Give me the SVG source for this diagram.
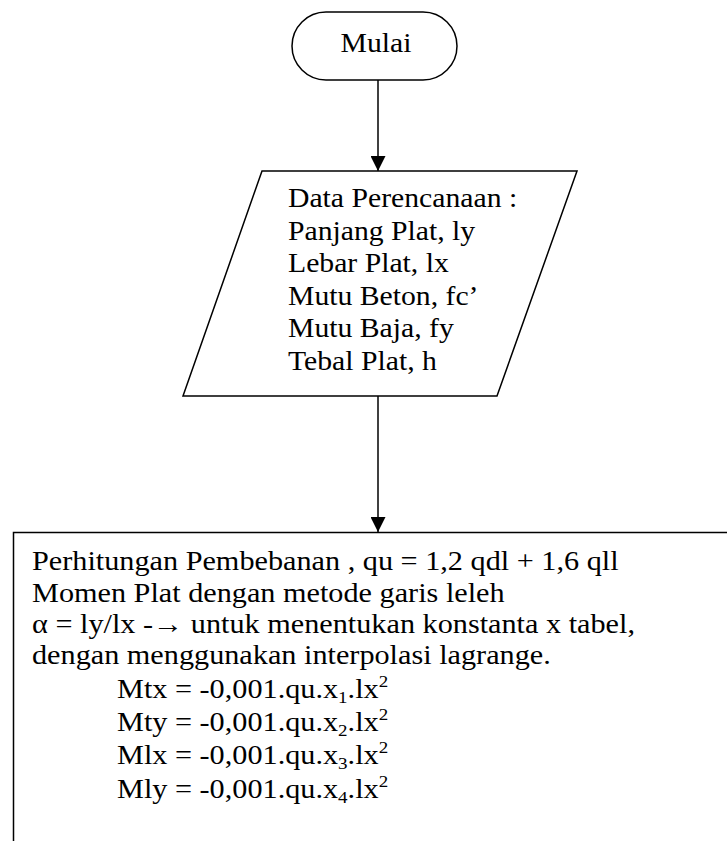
<svg xmlns="http://www.w3.org/2000/svg" width="727" height="841" viewBox="0 0 727 841">
<style>
.shape{fill:#fff;stroke:#000;stroke-width:1.5}
.t{font-family:"Liberation Serif","Times New Roman",serif;font-size:27px;fill:#000}
.s{font-size:17px}
.conn{stroke:#000;stroke-width:1.5;fill:none}
</style>
<defs>
<marker id="arr" markerWidth="15" markerHeight="15" refX="15" refY="7.5" orient="auto" markerUnits="userSpaceOnUse" viewBox="0 0 15 15">
<path d="M0,0 L15,7.5 L0,15 Z" fill="#000"/>
</marker>
</defs>
<rect width="727" height="841" fill="#fff"/>
<g id="connectors">
<line class="conn" x1="378" y1="80" x2="378" y2="171" marker-end="url(#arr)"/>
<line class="conn" x1="378" y1="396" x2="378" y2="532" marker-end="url(#arr)"/>
</g>
<g id="start">
<rect class="shape" x="292" y="12" width="165" height="68" rx="34" ry="34"/>
<text class="t" text-anchor="middle" transform="translate(376,52) scale(1.1,1)">Mulai</text>
</g>
<g id="input">
<polygon class="shape" points="262,171 577,171 497,396 183,396"/>
<text class="t" transform="translate(288,207) scale(1.1,1)">Data Perencanaan :</text>
<text class="t" transform="translate(288,240) scale(1.1,1)">Panjang Plat, ly</text>
<text class="t" transform="translate(288,272) scale(1.1,1)">Lebar Plat, lx</text>
<text class="t" transform="translate(288,305) scale(1.1,1)">Mutu Beton, fc’</text>
<text class="t" transform="translate(288,337) scale(1.1,1)">Mutu Baja, fy</text>
<text class="t" transform="translate(288,370) scale(1.1,1)">Tebal Plat, h</text>
</g>
<g id="process">
<rect class="shape" x="13.5" y="532.5" width="740" height="330"/>
<text class="t" transform="translate(32,570) scale(1.12,1)">Perhitungan Pembebanan , qu = 1,2 qdl + 1,6 qll</text>
<text class="t" transform="translate(32,602) scale(1.12,1)">Momen Plat dengan metode garis leleh</text>
<text class="t" transform="translate(32,633) scale(1.12,1)">α = ly/lx -→ untuk menentukan konstanta x tabel,</text>
<text class="t" transform="translate(32,664) scale(1.12,1)">dengan menggunakan interpolasi lagrange.</text>
<text class="t" transform="translate(117,698) scale(1.12,1)">Mtx = -0,001.qu.x<tspan class="s" dy="5">1</tspan><tspan dy="-5">.lx</tspan><tspan class="s" dy="-11">2</tspan></text>
<text class="t" transform="translate(117,731) scale(1.12,1)">Mty = -0,001.qu.x<tspan class="s" dy="5">2</tspan><tspan dy="-5">.lx</tspan><tspan class="s" dy="-11">2</tspan></text>
<text class="t" transform="translate(117,764) scale(1.12,1)">Mlx = -0,001.qu.x<tspan class="s" dy="5">3</tspan><tspan dy="-5">.lx</tspan><tspan class="s" dy="-11">2</tspan></text>
<text class="t" transform="translate(117,798) scale(1.12,1)">Mly = -0,001.qu.x<tspan class="s" dy="5">4</tspan><tspan dy="-5">.lx</tspan><tspan class="s" dy="-11">2</tspan></text>
</g>
</svg>
